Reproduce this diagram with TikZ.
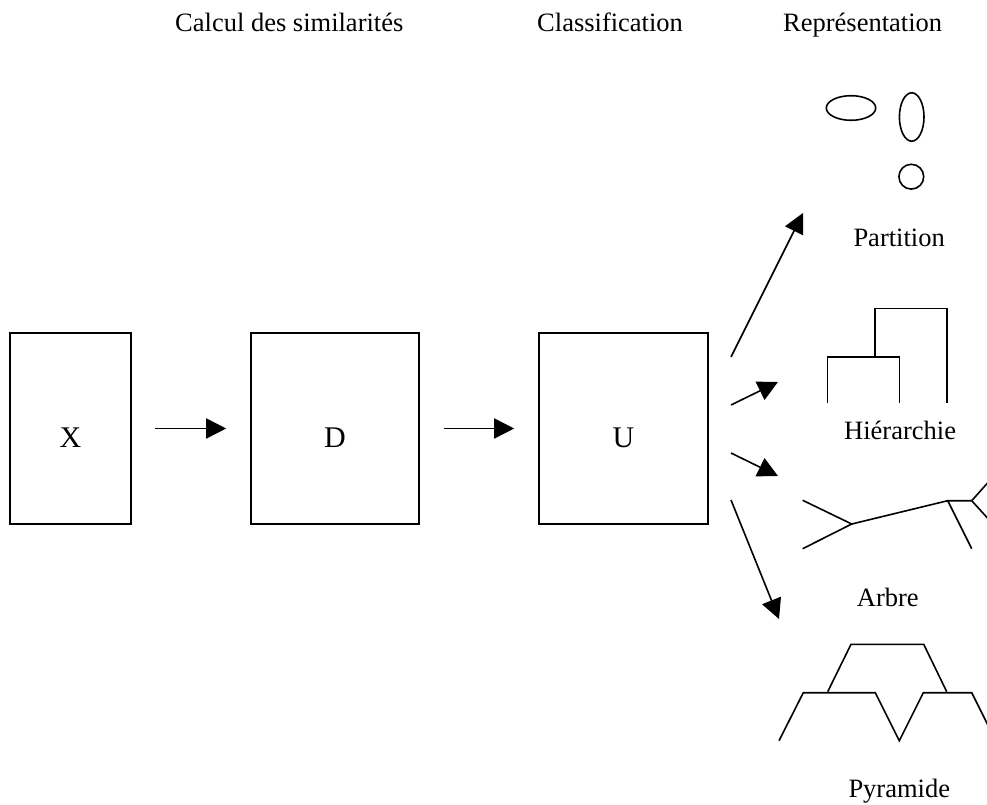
\documentclass[tikz,border=0pt]{standalone}
\usepackage{fontspec}
\setmainfont{Liberation Serif}
\usetikzlibrary{arrows.meta}

\tikzset{
  stroke/.style={line width=1.6pt, draw=black},
  block/.style={stroke, rectangle, inner sep=0pt, minimum height=191pt},
  blocklbl/.style={inner sep=0pt, anchor=base, font=\fontsize{30}{34}\selectfont},
  caption/.style={inner sep=0pt, anchor=base west, font=\fontsize{26.5}{30}\selectfont},
  flow/.style={stroke, -{Triangle[length=20pt, width=20pt]}},
  glyph/.style={stroke}
}

\begin{document}
\begin{tikzpicture}[x=1pt, y=-1pt]
  \useasboundingbox (0,0) rectangle (987,805);
  \clip (0,0) rectangle (987,805);

  % column headings
  \node[caption] (h1) at (175,32) {Calcul des similarités};
  \node[caption] (h2) at (537,32) {Classification};
  \node[caption] (h3) at (783,32) {Représentation};

  % data, dissimilarity and ultrametric blocks
  \node[block, minimum width=121pt] (X) at (70.5,428.5) {};
  \node[block, minimum width=168pt] (D) at (335,428.5) {};
  \node[block, minimum width=169pt] (U) at (623.5,428.5) {};
  \node[blocklbl] (Xt) at (70.5,447) {X};
  \node[blocklbl] (Dt) at (335,447) {D};
  \node[blocklbl] (Ut) at (623.5,447) {U};

  \draw[flow, shorten <=23pt, shorten >=24pt] (X) -- (D);
  \draw[flow, shorten <=24pt, shorten >=24pt] (D) -- (U);

  % fan of arrows towards the four representations
  \coordinate (s1) at (731,357); \coordinate (t1) at (803,213);
  \coordinate (s2) at (731,405); \coordinate (t2) at (778,382);
  \coordinate (s3) at (731,453); \coordinate (t3) at (778,476);
  \coordinate (s4) at (731,500); \coordinate (t4) at (779,619);
  \draw[flow] (s1) -- (t1);
  \draw[flow] (s2) -- (t2);
  \draw[flow] (s3) -- (t3);
  \draw[flow] (s4) -- (t4);

  % partition: three classes
  \draw[glyph] (851,108) ellipse [x radius=24.7pt, y radius=12.3pt];
  \draw[glyph] (911.7,117) ellipse [x radius=12.3pt, y radius=24.2pt];
  \draw[glyph] (911.3,176.7) circle [radius=12.4pt];
  \node[caption] (p) at (853.3,246.7) {Partition};

  % hierarchy: dendrogram
  \draw[glyph] (827.3,403.3) -- (827.3,356.7) -- (899.3,356.7) -- (899.3,403.3);
  \draw[glyph] (875,356.7) -- (875,308.3) -- (947,308.3) -- (947,403.3);
  \node[caption] (h) at (844,439) {Hiérarchie};

  % tree
  \draw[glyph] (802.7,500.3) -- (851.7,524) -- (802.7,548.7);
  \draw[glyph] (851.7,524) -- (947.7,500.7) -- (971.7,500.7);
  \draw[glyph] (947.7,500.7) -- (971.7,548.7);
  \draw[glyph] (971.7,500.7) -- (992,478);
  \draw[glyph] (971.7,500.7) -- (992,523);
  \node[caption] (a) at (856.7,606.7) {Arbre};

  % pyramid
  \draw[glyph] (827.7,691.7) -- (851,644.3) -- (923.7,644.3) -- (946.7,691.7);
  \draw[glyph] (779,740.7) -- (803.3,692.7) -- (875.3,692.7) -- (899.3,740.7)
               -- (923.3,692.7) -- (971.7,692.7) -- (995.7,740.7);
  \node[caption] (py) at (848.3,797) {Pyramide};
\end{tikzpicture}
\end{document}
